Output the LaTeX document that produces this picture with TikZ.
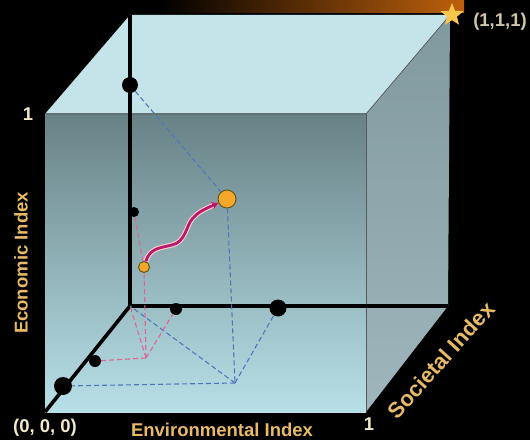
\documentclass[tikz,border=0pt]{standalone}
\usepackage{fontspec}
\setmainfont{Liberation Sans}
\usetikzlibrary{shapes.geometric,arrows.meta}

\definecolor{topface}{RGB}{196,228,234}
\definecolor{sideface}{RGB}{142,170,176}
\definecolor{frontdark}{RGB}{104,130,134}
\definecolor{frontlight}{RGB}{184,224,232}
\definecolor{labtan}{RGB}{232,186,104}
\definecolor{labcream}{RGB}{242,232,200}
\definecolor{bluedash}{RGB}{78,118,188}
\definecolor{pinkdash}{RGB}{222,100,146}
\definecolor{wave}{RGB}{186,24,108}
\definecolor{dotorange}{RGB}{246,166,40}
\definecolor{dotrim}{RGB}{96,88,30}
\definecolor{glow}{RGB}{190,96,12}

\begin{document}
\begin{tikzpicture}[x=1pt, y=1pt,
  axis/.style={line width=3.6pt, black},
  edge/.style={line width=0.7pt, black!65},
  bluedashed/.style={dash pattern=on 5pt off 3pt, bluedash, line width=1.1pt},
  pinkdashed/.style={dash pattern=on 5pt off 3pt, pinkdash, line width=1.1pt},
  blackdot/.style={circle, fill=black, inner sep=0pt, minimum size=#1},
  orangedot/.style={circle, fill=dotorange, draw=dotrim, line width=1pt, inner sep=0pt, minimum size=#1},
  lab/.style={font=\bfseries\fontsize{18.5}{22}\selectfont, text=labtan, inner sep=0pt},
  num/.style={lab, text=labcream}]
  % --- Baggrund ---
  \fill[black] (0,0) rectangle (530,440);
  \useasboundingbox (0,0) rectangle (530,440);
  \shade[left color=black, right color=glow] (160,427) rectangle (464,440);

  % --- Terningens hjoerner ---
  \coordinate (O)  at (45,28);
  \coordinate (A)  at (366,28);
  \coordinate (B)  at (366,326);
  \coordinate (C)  at (45,326);
  \coordinate (bo) at (130,134);
  \coordinate (bA) at (448,134);
  \coordinate (bB) at (450,425);
  \coordinate (bC) at (130,425);

  % --- Flader ---
  \fill[topface] (C) -- (bC) -- (bB) -- (B) -- cycle;
  \shade[top color=sideface!90!black, bottom color=sideface!85!white] (B) -- (bB) -- (bA) -- (A) -- cycle;
  \shade[top color=frontdark, bottom color=frontlight] (O) rectangle (B);
  \draw[edge] (C) -- (B) -- (bB);
  \draw[edge] (B) -- (A);

  % --- Akser ---
  \draw[axis] (bC) -- (bo);
  \draw[axis] (bo) -- (bA);
  \draw[axis] (bo) -- (O);

  % --- Punkter ---
  \node[blackdot=16pt] (e1) at (130,355) {};
  \node[blackdot=10pt] (e2) at (134,228) {};
  \node[blackdot=12pt] (h2) at (176,131) {};
  \node[blackdot=17pt] (h1) at (278,132) {};
  \node[blackdot=12pt] (d2) at (95,79) {};
  \node[blackdot=18pt] (d1) at (63,54) {};
  \node[orangedot=18pt] (P) at (227,241) {};
  \node[orangedot=11pt] (p) at (144,173) {};
  \coordinate (F) at (235,57);
  \coordinate (f) at (146,82);

  % --- Projektioner ---
  \draw[bluedashed] (e1) -- (P);
  \draw[bluedashed] (P) -- (F);
  \draw[bluedashed] (F) -- (h1);
  \draw[bluedashed] (F) -- (d1);
  \draw[bluedashed] (F) -- (bo);
  \draw[pinkdashed] (e2) -- (p);
  \draw[pinkdashed] (p) -- (f);
  \draw[pinkdashed] (f) -- (h2);
  \draw[pinkdashed] (f) -- (d2);
  \draw[pinkdashed] (f) -- (bo);

  % --- Forbedring ---
  \draw[wave, line width=2.8pt, -{Stealth[length=7pt, width=8pt]},
        preaction={draw, pink!75, line width=5pt}]
    (p) .. controls (150,192) and (160,192) .. (172,195)
        .. controls (186,198) and (186,215) .. (193,222)
        .. controls (198,228) and (205,231) .. (P);

  \node[star, star points=5, star point ratio=2.3, fill={rgb,255:red,248;green,198;blue,76},
        minimum size=24pt, inner sep=0pt] (star) at (452,425) {};

  % --- Tekster ---
  \node[num] (oneY) at (28,326) {1};
  \node[lab, rotate=90] (econ) at (21,177) {Economic Index};
  \node[num] (origin) at (45,12) {(0, 0, 0)};
  \node[lab] (env) at (222,10) {Environmental Index};
  \node[num] (oneX) at (369,16) {1};
  \node[lab, rotate=48, font=\bfseries\fontsize{22}{26}\selectfont] (soc) at (441,80) {Societal Index};
  \node[num, text=black!15!labcream] (corner) at (500,418) {(1,1,1)};
\end{tikzpicture}
\end{document}
